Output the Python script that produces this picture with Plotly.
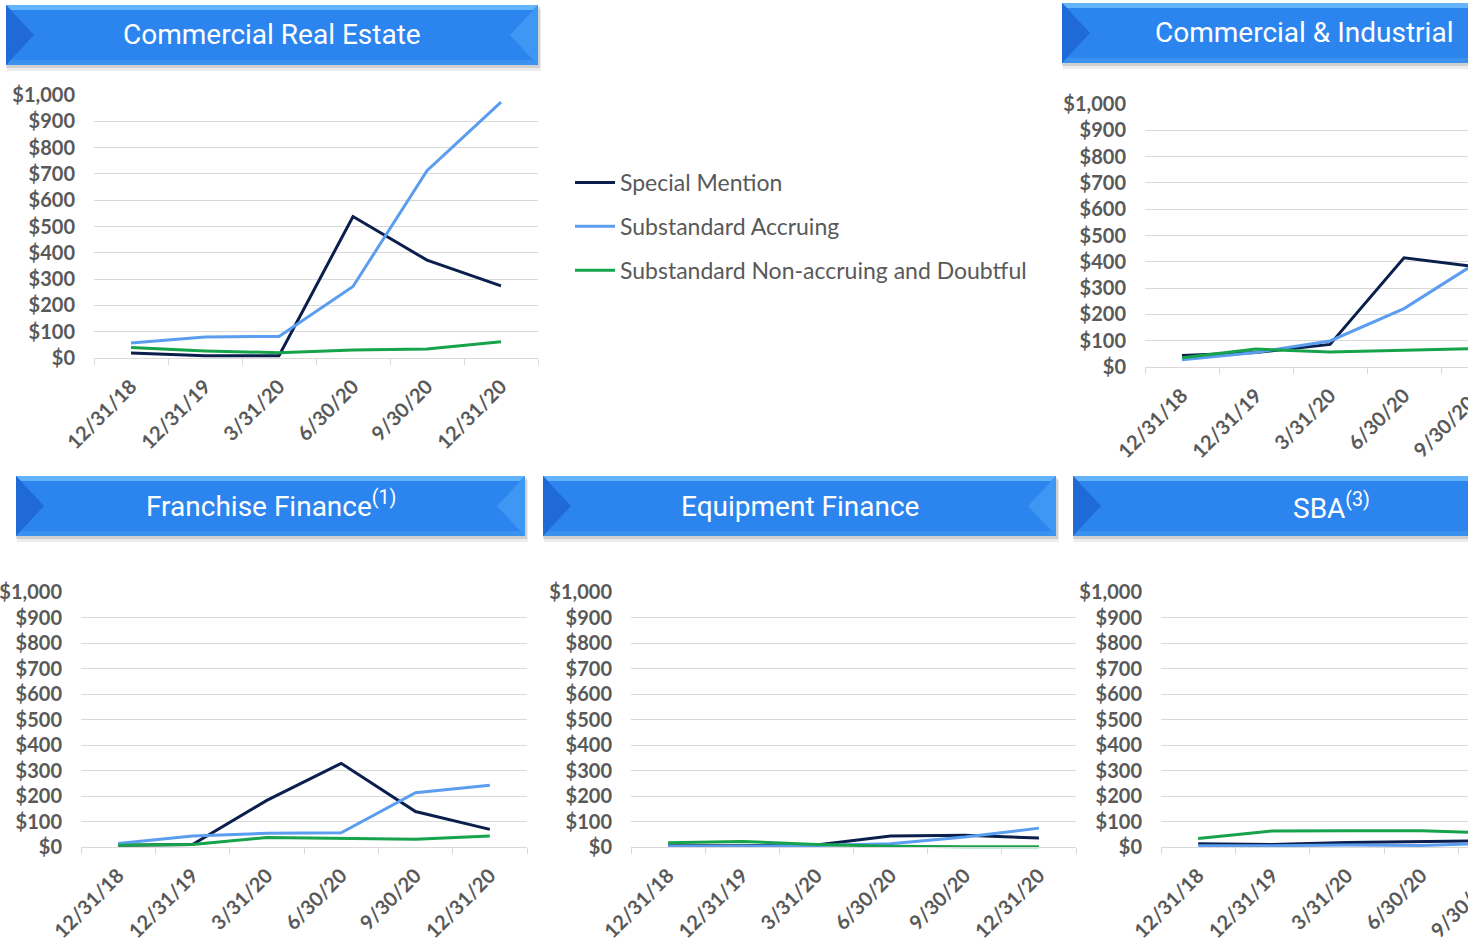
import plotly.graph_objects as go

W, H = 1468, 944

# ---------------- data ----------------
categories = ["12/31/18", "12/31/19", "3/31/20", "6/30/20", "9/30/20", "12/31/20"]
series_names = ["Special Mention", "Substandard Accruing",
                "Substandard Non-accruing and Doubtful"]
series_colors = ["#0b1f4d", "#5b9def", "#16a34b"]
y_ticks = [0, 100, 200, 300, 400, 500, 600, 700, 800, 900, 1000]
y_tick_labels = ["$0", "$100", "$200", "$300", "$400", "$500",
                 "$600", "$700", "$800", "$900", "$1,000"]

cre_special = [19, 9, 9, 538, 372, 274]
cre_accruing = [57, 80, 82, 272, 712, 973]
cre_nonaccruing = [40, 27, 20, 30, 34, 62]

ci_special = [44, 55, 86, 415, 380, None]
ci_accruing = [28, 55, 99, 222, 400, None]
ci_nonaccruing = [35, 68, 57, 65, 70, None]

ff_special = [7, 10, 183, 328, 139, 69]
ff_accruing = [14, 43, 54, 56, 213, 242]
ff_nonaccruing = [7, 10, 37, 33, 30, 43]

ef_special = [5, 5, 8, 43, 46, 35]
ef_accruing = [3, 3, 6, 13, 39, 74]
ef_nonaccruing = [17, 22, 10, 3, 1, 1]

sba_special = [13, 10, 18, 24, 25, None]
sba_accruing = [5, 5, 8, 6, 15, None]
sba_nonaccruing = [33, 63, 64, 64, 55, None]

panel_titles = ["Commercial Real Estate", "Commercial & Industrial",
                "Franchise Finance<sup>(1)</sup>", "Equipment Finance",
                "SBA<sup>(3)</sup>"]
panel_series = [
    [cre_special, cre_accruing, cre_nonaccruing],
    [ci_special, ci_accruing, ci_nonaccruing],
    [ff_special, ff_accruing, ff_nonaccruing],
    [ef_special, ef_accruing, ef_nonaccruing],
    [sba_special, sba_accruing, sba_nonaccruing],
]

# ---------------- layout geometry (pixels) ----------------
# plot area: left, right (full axis incl. hidden part), y of $1,000, y of $0
plots = [
    (94, 538, 95, 358),
    (1145, 1589, 104, 367),
    (81, 527, 592, 847),
    (631, 1076, 592, 847),
    (1161, 1607, 592, 847),
]
# banners: x0, x1, y0, y1, title anchor
banners = [
    (6, 538, 5, 65, ("center", 272, 35)),
    (1062, 1600, 3, 63, ("left", 1153, 33)),
    (16, 525, 476, 536, ("center", 271, 505)),
    (543, 1056, 476, 536, ("center", 800, 506)),
    (1073, 1590, 476, 536, ("center", 1331, 506)),
]

GRAY = "#595959"
GRID = "#d9d9d9"
TICKFONT = dict(family="Lato", size=20, color=GRAY, weight="bold")
XSTANDOFF = 8


def px(x):
    return x / W


def py(y):
    return 1 - y / H


fig = go.Figure()
layout = dict(
    width=W, height=H, margin=dict(l=0, r=0, t=0, b=0, pad=0, autoexpand=False),
    paper_bgcolor="white", plot_bgcolor="white",
    showlegend=True,
)
shapes = []
annotations = []

YMIN = -15
for i, (x0, x1, ytop, yzero) in enumerate(plots):
    n = "" if i == 0 else str(i + 1)
    ppu = (yzero - ytop) / 1000.0
    ybot = yzero - YMIN * ppu
    xr = min(x1, W)
    catw = (x1 - x0) / 6.0
    rmax = -0.5 + (xr - x0) / catw
    layout["xaxis" + n] = dict(
        domain=[px(x0), px(xr)], anchor="free", position=py(yzero),
        type="category", categoryorder="array", categoryarray=categories,
        range=[-0.5, rmax], showgrid=False, zeroline=False, automargin=False,
        showline=True, linecolor=GRID, linewidth=1,
        ticks="outside", tickson="boundaries", ticklen=6, tickcolor=GRID,
        tickangle=-45, tickfont=TICKFONT, ticklabelstandoff=XSTANDOFF,
        fixedrange=True,
    )
    layout["yaxis" + n] = dict(
        domain=[py(ybot), py(ytop)], anchor="x" + n, automargin=False,
        range=[YMIN, 1000], tickmode="array", tickvals=y_ticks,
        ticktext=y_tick_labels, showgrid=True, gridcolor=GRID,
        gridwidth=1, zeroline=False, showline=False, ticks="",
        ticklabelstandoff=18, tickfont=TICKFONT, fixedrange=True,
    )
    for s, (name, color) in enumerate(zip(series_names, series_colors)):
        fig.add_trace(go.Scatter(
            x=categories, y=panel_series[i][s], mode="lines", name=name,
            line=dict(color=color, width=3), legendgroup=name,
            showlegend=(i == 0), xaxis="x" + n, yaxis="y" + n,
            hoverinfo="skip",
        ))
    # partially visible category labels at the cut-off right edge
    if x1 > W:
        for k, cat in enumerate(categories):
            cx = x0 + (k + 0.5) * catw
            if cx > xr and cx < W + 60:
                annotations.append(dict(
                    x=px(cx + 4), y=py(yzero + 12 + XSTANDOFF), xref="paper", yref="paper",
                    text=cat, showarrow=False, textangle=-45,
                    xanchor="right", yanchor="top", font=TICKFONT,
                ))

# banners
for (bx0, bx1, by0, by1, (anchor, tx, ty)) in banners:
    ym = (by0 + by1) / 2
    b = 5

    def path(pts):
        return "M " + " L ".join(f"{px(a):.5f},{py(c):.5f}" for a, c in pts) + " Z"

    shapes.append(dict(type="rect", xref="paper", yref="paper",
                       x0=px(bx0 + 1), x1=px(bx1 + 3), y0=py(by1 + 6), y1=py(by0 + 4),
                       fillcolor="rgba(0,0,0,0.07)", line=dict(width=0), layer="below"))
    shapes.append(dict(type="rect", xref="paper", yref="paper",
                       x0=px(bx0), x1=px(bx1 + 2), y0=py(by1 + 3), y1=py(by0 + 2),
                       fillcolor="rgba(0,0,0,0.12)", line=dict(width=0), layer="below"))
    shapes.append(dict(type="rect", xref="paper", yref="paper",
                       x0=px(bx0), x1=px(bx1), y0=py(by1), y1=py(by0),
                       fillcolor="#2c85ef", line=dict(width=0), layer="below"))
    shapes.append(dict(type="path", xref="paper", yref="paper",
                       path=path([(bx0, by0), (bx1, by0), (bx1 - b, by0 + b), (bx0 + b, by0 + b)]),
                       fillcolor="#63b4fc", line=dict(width=0), layer="below"))
    shapes.append(dict(type="path", xref="paper", yref="paper",
                       path=path([(bx0, by1), (bx1, by1), (bx1 - b, by1 - b), (bx0 + b, by1 - b)]),
                       fillcolor="#3b92ee", line=dict(width=0), layer="below"))
    shapes.append(dict(type="path", xref="paper", yref="paper",
                       path=path([(bx0, by0), (bx0 + 28, ym), (bx0, by1)]),
                       fillcolor="#1f6ad6", line=dict(width=0), layer="below"))
    shapes.append(dict(type="path", xref="paper", yref="paper",
                       path=path([(bx1, by0), (bx1 - 28, ym), (bx1, by1)]),
                       fillcolor="#3f97f4", line=dict(width=0), layer="below"))

for (bx0, bx1, by0, by1, (anchor, tx, ty)), title in zip(banners, panel_titles):
    annotations.append(dict(
        x=px(tx), y=py(ty), xref="paper", yref="paper", text=title,
        showarrow=False, xanchor=anchor, yanchor="middle",
        font=dict(family="Roboto", size=28, color="white"),
    ))

layout["shapes"] = shapes
layout["annotations"] = annotations
layout["legend"] = dict(
    x=px(570), y=py(161), xanchor="left", yanchor="top",
    font=dict(family="Lato", size=23, color=GRAY),
    bgcolor="rgba(0,0,0,0)", tracegroupgap=11, itemwidth=40,
    traceorder="grouped",
)
fig.update_layout(**layout)
fig.write_html("out.html")
